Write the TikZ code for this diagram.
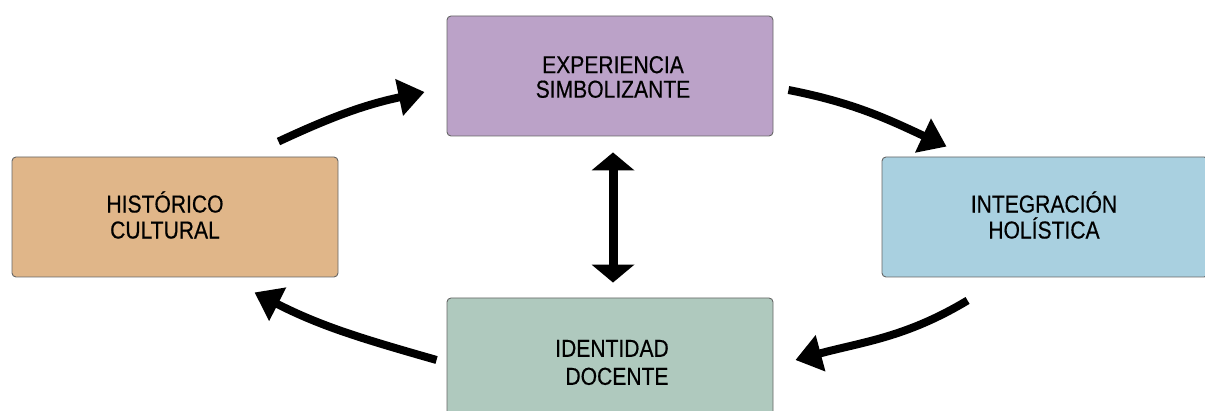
\documentclass[tikz,border=0pt]{standalone}
\usepackage{fontspec}
\setmainfont{Liberation Sans}[FakeStretch=0.86,FakeBold=0.4]
\usetikzlibrary{arrows.meta}
\definecolor{cpurple}{HTML}{BBA2C8}
\definecolor{corange}{HTML}{E0B689}
\definecolor{cblue}{HTML}{A9D0E0}
\definecolor{cgreen}{HTML}{AFC9BE}
\definecolor{cborder}{HTML}{666666}
\begin{document}
\begin{tikzpicture}[x=1pt,y=1pt,
  box/.style={draw=cborder, line width=0.9pt, rounded corners=4pt,
    minimum width=326pt, minimum height=120pt, inner sep=0pt},
  lbl/.style={align=center, inner sep=0pt, text=black,
    font=\fontsize{24.5}{26}\selectfont},
  cyc/.style={line width=8pt, -{Triangle[length=26pt,width=36pt]}},
  dbl/.style={line width=9pt, {Triangle[length=18pt,width=42pt]}-{Triangle[length=18pt,width=42pt]}}]
\useasboundingbox (0,0) rectangle (1205,410);
\clip (0,0) rectangle (1205,410);
% boxes
\node[box, fill=cpurple] (exp) at (610,334) {};
\node[box, fill=corange] (hist) at (175,193) {};
\node[box, fill=cblue] (integ) at (1045,193) {};
\node[box, fill=cgreen] (ident) at (610,52) {};
% labels
\node[lbl, font=\fontsize{24.5}{24.5}\selectfont] (expl) at (613,333) {EXPERIENCIA\\SIMBOLIZANTE};
\node[lbl] (histl) at (165,195) {HISTÓRICO\\CULTURAL};
\node[lbl] (integl) at (1044,195) {INTEGRACIÓN\\HOLÍSTICA};
\node[lbl, font=\fontsize{24.5}{28}\selectfont] (identl) at (612,47.5) {IDENTIDAD\\\hspace*{10pt}DOCENTE};
% cycle arrows
\draw[cyc] ([shift={(-60,15)}]hist.north east) to[out=25,in=192] ([shift={(-22,-16)}]exp.west);
\draw[cyc] ([shift={(15,-14)}]exp.east) to[out=-11,in=155] ([shift={(65,10)}]integ.north west);
\draw[cyc] ([shift={(86,-23)}]integ.south west) to[out=211,in=15] ([shift={(22,-2)}]ident.east);
\draw[cyc] ([shift={(-10,-2)}]ident.west) to[out=164,in=-27] ([shift={(243,-15)}]hist.south west);
% vertical double arrow
\draw[dbl] ([shift={(3,-16)}]exp.south) -- ([shift={(3,15)}]ident.north);
\end{tikzpicture}
\end{document}
